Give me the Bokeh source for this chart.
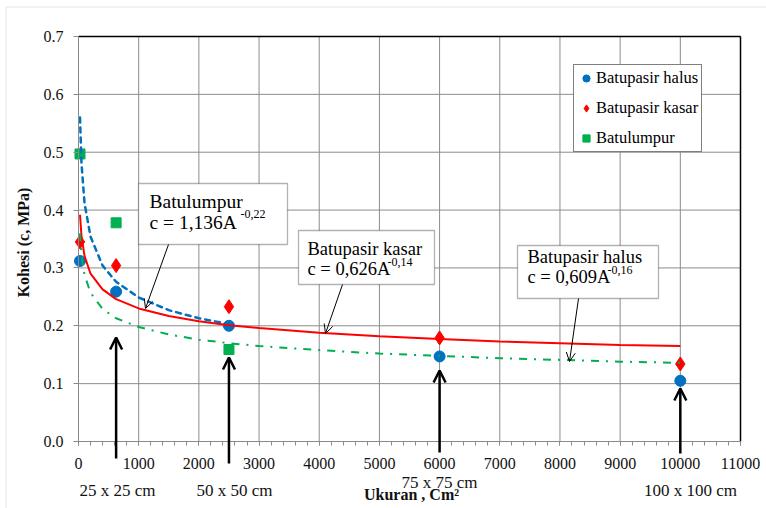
from bokeh.plotting import figure
from bokeh.models import (Range1d, FixedTicker, NumeralTickFormatter, Label, Arrow,
                          OpenHead, BoxAnnotation, Legend, LegendItem, LinearAxis)
from bokeh.embed import file_html
from bokeh.resources import INLINE

# ---- data ----
area = [25, 625, 2500, 6000, 10000]                 # cm^2
size_labels = ["25 x 25 cm", "50 x 50 cm", "75 x 75 cm", "100 x 100 cm"]
size_area = [625, 2500, 6000, 10000]
halus = [0.312, 0.259, 0.200, 0.147, 0.105]         # Batupasir halus
kasar = [0.345, 0.304, 0.233, 0.179, 0.134]         # Batupasir kasar
lumpur_x = [25, 625, 2500]
lumpur = [0.497, 0.378, 0.159]                      # Batulumpur

# trend lines as drawn
trend_x = [25, 50, 100, 200, 400, 625, 1000, 1500, 2000, 2500,
           3000, 4000, 5000, 6000, 7000, 8000, 9000, 10000]
trend_blue_x = [25, 50, 100, 200, 400, 625, 1000, 1500, 2000, 2500]
trend_blue = [0.560, 0.480, 0.412, 0.354, 0.304, 0.276, 0.249, 0.227, 0.213, 0.203]
trend_red = [0.392, 0.355, 0.321, 0.290, 0.263, 0.246, 0.230, 0.217, 0.208, 0.201,
             0.196, 0.188, 0.182, 0.177, 0.173, 0.170, 0.167, 0.165]
trend_green = [0.360, 0.322, 0.288, 0.257, 0.229, 0.213, 0.198, 0.185, 0.176, 0.170,
               0.165, 0.158, 0.152, 0.148, 0.144, 0.141, 0.138, 0.136]

x_ticks = list(range(0, 11001, 1000))
x_minor = list(range(0, 11001, 200))
y_ticks = [0.0, 0.1, 0.2, 0.3, 0.4, 0.5, 0.6, 0.7]
X_MAX, Y_MAX = 11000, 0.7

SERIF = "'Liberation Serif', 'DejaVu Serif', 'Times New Roman', serif"
BLUE, RED, GREEN = "#0070C0", "#FF0000", "#00B050"
GRID = "#8c8c8c"
TXT = "#111111"

# pixel geometry of the plotting area inside the 766x508 canvas
W, H = 766, 508
FX0, FX1, FY0, FY1 = 78, 740, 441, 36
def X(px):
    return (px - FX0) * X_MAX / (FX1 - FX0)
def Y(py):
    return (FY0 - py) * Y_MAX / (FY0 - FY1)

# frame covers the whole canvas, axes sit at fixed locations
p = figure(width=W, height=H, output_backend="svg", toolbar_location=None,
           x_range=Range1d(X(0), X(W)), y_range=Range1d(Y(H), Y(0)),
           x_axis_location=None, y_axis_location=None,
           min_border=0, min_border_left=0, min_border_right=0,
           min_border_top=0, min_border_bottom=0)
p.outline_line_color = None
p.grid.visible = False
p.background_fill_color = "white"
p.border_fill_color = "white"

# outer chart border (light grey, top + left)
p.add_layout(BoxAnnotation(left=X(5.5), top=Y(6.5), right=X(900), bottom=Y(700),
                           fill_alpha=0, line_color="#a6a6a6", line_width=1))

# grid lines
p.segment(x0=x_ticks, y0=[0] * len(x_ticks), x1=x_ticks, y1=[Y_MAX] * len(x_ticks),
          line_color=GRID, line_width=1)
p.segment(x0=[0] * len(y_ticks), y0=y_ticks, x1=[X_MAX] * len(y_ticks), y1=y_ticks,
          line_color=GRID, line_width=1)
# black top / right frame
p.segment(x0=[0, X_MAX], y0=[Y_MAX, 0], x1=[X_MAX, X_MAX], y1=[Y_MAX, Y_MAX],
          line_color="black", line_width=1.5)

# axes
xaxis = LinearAxis(fixed_location=0, bounds=(0, X_MAX),
                   ticker=FixedTicker(ticks=x_ticks, minor_ticks=x_minor),
                   formatter=NumeralTickFormatter(format="0"))
yaxis = LinearAxis(fixed_location=0, bounds=(0, Y_MAX),
                   ticker=FixedTicker(ticks=y_ticks),
                   formatter=NumeralTickFormatter(format="0.0"))
for ax in (xaxis, yaxis):
    ax.axis_line_color = "#8a8a8a"
    ax.major_tick_line_color = "#8a8a8a"
    ax.minor_tick_line_color = "#8a8a8a"
    ax.major_label_text_font = SERIF
    ax.major_label_text_font_size = "16px"
    ax.major_label_text_color = TXT
    ax.major_tick_in = 0
    ax.minor_tick_in = 0
xaxis.major_tick_out = 4
xaxis.minor_tick_out = 4
xaxis.major_label_standoff = 12
yaxis.major_tick_out = 5
yaxis.minor_tick_out = 0
yaxis.major_label_standoff = 10
p.add_layout(xaxis, "below")
p.add_layout(yaxis, "left")

# ---- markers ----
r_halus = p.scatter(area, halus, marker="circle", size=11, fill_color=BLUE, line_color=BLUE)
r_kasar = p.scatter(area, kasar, marker="diamond", size=14, fill_color=RED, line_color=RED)
r_lumpur = p.scatter(lumpur_x, lumpur, marker="square", size=10, fill_color=GREEN, line_color=GREEN)

# ---- trend lines ----
p.line(trend_blue_x, trend_blue, line_color=BLUE, line_width=2.5, line_dash="5 5", line_cap="round")
p.line(trend_x, trend_red, line_color=RED, line_width=2)
p.line(trend_x, trend_green, line_color=GREEN, line_width=2, line_dash="8 7 2 7")

# ---- legend ----
legend = Legend(items=[LegendItem(label="Batupasir halus", renderers=[r_halus]),
                       LegendItem(label="Batupasir kasar", renderers=[r_kasar]),
                       LegendItem(label="Batulumpur", renderers=[r_lumpur])],
                location=(573, H - 152), orientation="vertical")
legend.label_text_font = SERIF
legend.label_text_font_size = "16.5px"
legend.label_text_color = "black"
legend.border_line_color = "black"
legend.border_line_width = 1.2
legend.background_fill_alpha = 1
legend.padding = 3
legend.spacing = 10
legend.label_height = 20
legend.glyph_height = 20
legend.glyph_width = 18
legend.label_standoff = 1
legend.margin = 0
p.add_layout(legend)

# ---- callout boxes ----
callouts = [
    # box (l, t, r, b), lines, text x, line centers, sup x / y, arrow, font size
    ((138, 183, 287, 244), "Batulumpur", "c = 1,136A", "-0,22", 149, 201, 222, 240, 213,
     (168, 244), (145, 308), 19.5),
    ((298, 230, 434, 284), "Batupasir kasar", "c = 0,626A", "-0,14", 307, 248, 268, 387, 261,
     (342, 284), (325, 333), 18.5),
    ((517, 245, 658, 298), "Batupasir halus", "c = 0,609A", "-0,16", 527, 256, 276, 607, 269,
     (578, 298), (569, 361), 18.5),
]
for ((l, t, r, b), t1, t2, sup, tx, y1, y2, sx, sy, a0, a1, fs) in callouts:
    p.add_layout(BoxAnnotation(left=X(l), right=X(r), top=Y(t), bottom=Y(b),
                               fill_color="white", fill_alpha=1,
                               line_color="black", line_width=1.3))
    p.add_layout(Label(x=X(tx), y=Y(y1), text=t1, text_font=SERIF,
                       text_font_size=f"{fs}px", text_baseline="middle", text_align="left",
                       text_color="black"))
    p.add_layout(Label(x=X(tx), y=Y(y2), text=t2, text_font=SERIF,
                       text_font_size=f"{fs}px", text_baseline="middle", text_align="left",
                       text_color="black"))
    p.add_layout(Label(x=X(sx), y=Y(sy), text=sup, text_font=SERIF,
                       text_font_size="12px", text_baseline="middle",
                       text_align="left", text_color="black"))
    p.add_layout(Arrow(x_start=X(a0[0]), y_start=Y(a0[1]), x_end=X(a1[0]), y_end=Y(a1[1]),
                       line_color="black", line_width=1,
                       end=OpenHead(size=9, line_color="black", line_width=1)))

# ---- big arrows marking sample sizes ----
arrow_base = [458, 463, 452, 453]
arrow_tip = [337, 357, 370, 388]
for xa, y0, y1 in zip(size_area, arrow_base, arrow_tip):
    p.add_layout(Arrow(x_start=xa, y_start=Y(y0), x_end=xa, y_end=Y(y1),
                       line_color="black", line_width=2.5,
                       end=OpenHead(size=12, line_color="black", line_width=2.5)))

# size labels under the axis
size_label_px = [(117, 490), (234, 490), (439, 482), (690, 490)]
for txt, (px, py) in zip(size_labels, size_label_px):
    p.add_layout(Label(x=X(px), y=Y(py), text=txt, text_font=SERIF, text_font_size="17px",
                       text_align="center", text_baseline="middle", text_color=TXT))

# axis titles
p.add_layout(Label(x=X(411), y=Y(494), text="Ukuran , Cm²", text_font=SERIF,
                   text_font_size="16px", text_font_style="bold", text_align="center",
                   text_baseline="middle", text_color=TXT))
p.add_layout(Label(x=X(23), y=Y(242), text="Kohesi (c, MPa)", text_font=SERIF,
                   text_font_size="16px", text_font_style="bold", text_align="center",
                   text_baseline="middle", angle=1.5708, text_color=TXT))

open("out.html", "w").write(file_html(p, INLINE))
